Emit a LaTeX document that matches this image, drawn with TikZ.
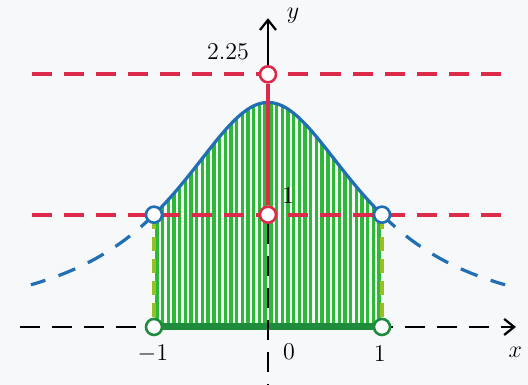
\documentclass[tikz,border=0pt]{standalone}
\usetikzlibrary{arrows.meta}

\definecolor{levelred}{RGB}{222,42,74}
\definecolor{curveblue}{RGB}{32,110,180}
\definecolor{hatchgreen}{RGB}{45,185,55}
\definecolor{bandgreen}{RGB}{30,140,60}
\definecolor{sidegreen}{RGB}{150,192,35}
\definecolor{paper}{RGB}{246,248,250}

\tikzset{
  opendot/.style={circle, draw=#1, fill=white, line width=1.3pt, inner sep=0pt, minimum size=8pt},
  level/.style={levelred, line width=2pt, dash pattern=on 10pt off 6pt},
  axisline/.style={black, line width=1.1pt},
  axisdash/.style={axisline, dash pattern=on 10pt off 6pt},
  hatch/.style={hatchgreen, line width=1.7pt},
}

\begin{document}
\begin{tikzpicture}[x=2cm, y=1.97cm, font=\large]
    % Page and margins
    \fill[paper] (-2.351,-0.516) rectangle (2.281,2.912);
    \useasboundingbox (-2.351,-0.516) rectangle (2.281,2.912);

    % Shade under the curve with vertical strokes
    \foreach \x in {-0.975,-0.925,...,0.98}
        \draw[hatch] (\x,0) -- (\x,{2/(1+\x*\x)});

    % Points
    \coordinate (O) at (0,0);
    \coordinate (xl) at (-2.175,0);
    \coordinate (xr) at (2.175,0);
    \coordinate (yb) at (0,-0.516);
    \coordinate (yt) at (0,2.75);
    \coordinate (al) at (-2.07,2.25);
    \coordinate (ar) at (2.07,2.25);
    \coordinate (bl) at (-2.07,1);
    \coordinate (br) at (2.07,1);

    % Axes
    \draw[axisdash, -{Straight Barb[length=5pt,width=8pt]}] (xl) -- (xr);

    % Red dashed levels
    \draw[level] (al) -- (ar);
    \draw[level] (bl) -- (br);

    % Curve, solid on [-1,1]
    \draw[curveblue, line width=1.6pt] plot[domain=-1:1, samples=60, smooth] (\x,{2/(1+\x*\x)});
    \draw[curveblue, line width=1.6pt, dash pattern=on 9pt off 7pt] plot[domain=-1:-2.08, samples=30, smooth] (\x,{2/(1+\x*\x)});
    \draw[curveblue, line width=1.6pt, dash pattern=on 9pt off 7pt] plot[domain=1:2.08, samples=30, smooth] (\x,{2/(1+\x*\x)});

    % Sides of the region
    \draw[sidegreen, line width=1.6pt, dash pattern=on 7pt off 4pt] (-1,1) -- (-1,0);
    \draw[sidegreen, line width=1.6pt, dash pattern=on 7pt off 4pt] (1,1) -- (1,0);
    \draw[bandgreen, line width=3.5pt] (-1,0) -- (1,0);

    % Marks
    \node[opendot=levelred] (top) at (0,2.25) {};
    \node[opendot=levelred] (one) at (0,1) {};
    \node[opendot=curveblue] (pl) at (-1,1) {};
    \node[opendot=curveblue] (pr) at (1,1) {};
    \node[opendot=bandgreen] (ql) at (-1,0) {};
    \node[opendot=bandgreen] (qr) at (1,0) {};

    % y-axis pieces
    \draw[axisdash] (one) -- (yb);
    \draw[levelred, line width=1.6pt] (one) -- (top);
    \draw[axisline, -{Straight Barb[length=5pt,width=8pt]}] (top) -- (yt);

    % Labels
    \node (l225) at (-0.351,2.449) {$2.25$};
    \node (l1) at (0.175,1.167) {$1$};
    \node (l0) at (0.184,-0.223) {$0$};
    \node (lm1) at (-1.01,-0.24) {$-1$};
    \node (lp1) at (0.98,-0.24) {$1$};
    \node (lx) at (2.17,-0.23) {$x$};
    \node (ly) at (0.22,2.77) {$y$};
\end{tikzpicture}
\end{document}
